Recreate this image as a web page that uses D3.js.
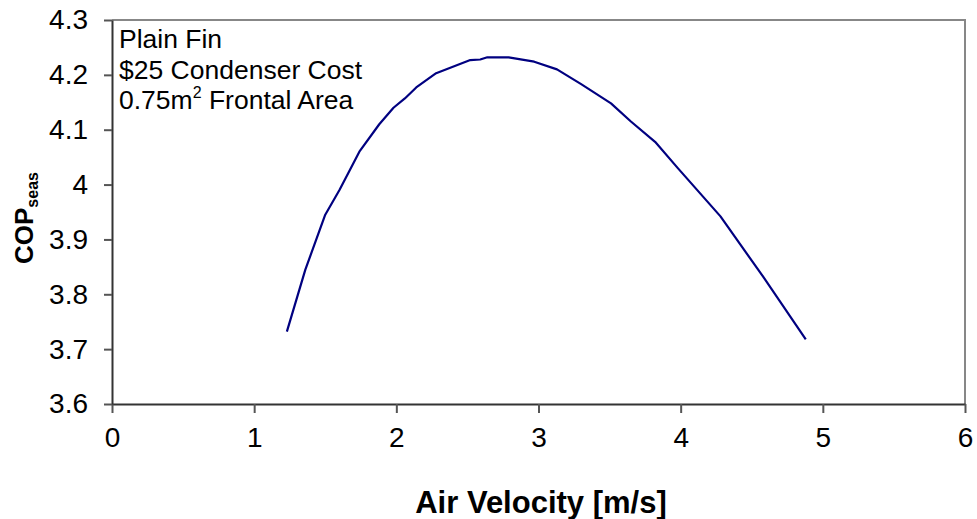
<!DOCTYPE html>
<html>
<head>
<meta charset="utf-8">
<script src="https://cdn.jsdelivr.net/npm/d3@7"></script>
<style>
  html, body { margin: 0; padding: 0; background: #fff; }
  svg { display: block; font-family: "Liberation Sans", Arial, sans-serif; }
</style>
</head>
<body>
<svg id="chart" width="977" height="519"></svg>
<script>
// Seasonal COP versus condenser air velocity
const airVelocity = [1.23, 1.36, 1.50, 1.60, 1.74, 1.88, 1.98, 2.06, 2.14, 2.28, 2.52, 2.59, 2.64, 2.79, 2.97, 3.13, 3.30, 3.51, 3.65, 3.82, 3.98, 4.28, 4.58, 4.88];
const copSeas     = [3.732, 3.845, 3.945, 3.990, 4.060, 4.110, 4.140, 4.157, 4.177, 4.203, 4.227, 4.228, 4.232, 4.232, 4.224, 4.210, 4.183, 4.148, 4.115, 4.078, 4.030, 3.942, 3.832, 3.718];

const xTicks = [0, 1, 2, 3, 4, 5, 6];
const yTicks = [3.6, 3.7, 3.8, 3.9, 4.0, 4.1, 4.2, 4.3];
const yTickLabels = ["3.6", "3.7", "3.8", "3.9", "4", "4.1", "4.2", "4.3"];
const noteLines = ["Plain Fin", "$25 Condenser Cost", "0.75m", " Frontal Area"];

const svg = d3.select("#chart");
const plotLeft = 112, plotRight = 965, plotTop = 20, plotBottom = 404;

const x = d3.scaleLinear().domain([0, 6]).range([plotLeft, plotRight]);
const y = d3.scaleLinear().domain([3.6, 4.3]).range([plotBottom, plotTop]);

// plot frame (top and right edges in grey)
svg.append("path")
  .attr("d", `M${plotLeft},${plotTop}H${plotRight}V${plotBottom}`)
  .attr("fill", "none")
  .attr("stroke", "#878787")
  .attr("stroke-width", 2);

// x axis
const xAxis = svg.append("g")
  .attr("transform", `translate(0,${plotBottom})`)
  .call(d3.axisBottom(x).tickValues(xTicks).tickFormat(d3.format("d")).tickSizeInner(9).tickSizeOuter(0).tickPadding(14));
xAxis.select(".domain").attr("stroke", "#333").attr("stroke-width", 2);
xAxis.selectAll(".tick line").attr("stroke", "#555").attr("stroke-width", 2);
xAxis.selectAll("text").attr("font-size", 28).attr("fill", "#000").attr("font-family", "Liberation Sans, Arial, sans-serif");

// y axis
const yAxis = svg.append("g")
  .attr("transform", `translate(${plotLeft},0)`)
  .call(d3.axisLeft(y).tickValues(yTicks).tickFormat((d, i) => yTickLabels[i]).tickSizeInner(8).tickSizeOuter(0).tickPadding(16));
yAxis.select(".domain").attr("stroke", "#333").attr("stroke-width", 2);
yAxis.selectAll(".tick line").attr("stroke", "#555").attr("stroke-width", 2);
yAxis.selectAll("text").attr("font-size", 28).attr("fill", "#000").attr("font-family", "Liberation Sans, Arial, sans-serif");

// series
const line = d3.line().x((d, i) => x(airVelocity[i])).y(d => y(d));
svg.append("path")
  .datum(copSeas)
  .attr("d", line)
  .attr("fill", "none")
  .attr("stroke", "#000080")
  .attr("stroke-width", 2.2)
  .attr("stroke-linejoin", "round");

// annotation block
const note = svg.append("g").attr("font-size", 26.5).attr("fill", "#000");
note.append("text").attr("x", 119).attr("y", 48).text(noteLines[0]);
note.append("text").attr("x", 119).attr("y", 79).text(noteLines[1]);
const n3 = note.append("text").attr("x", 119).attr("y", 109);
n3.append("tspan").text(noteLines[2]);
n3.append("tspan").attr("font-size", 16).attr("dy", -11).text("2");
n3.append("tspan").attr("dy", 11).text(noteLines[3]);

// axis titles
svg.append("text")
  .attr("x", 541).attr("y", 513)
  .attr("text-anchor", "middle")
  .attr("font-size", 31).attr("font-weight", "bold")
  .text("Air Velocity [m/s]");

const yt = svg.append("text")
  .attr("transform", "translate(33,218) rotate(-90)")
  .attr("text-anchor", "middle")
  .attr("font-size", 26).attr("font-weight", "bold");
yt.append("tspan").text("COP");
yt.append("tspan").attr("font-size", 16).attr("dy", 5).text("seas");
</script>
</body>
</html>
